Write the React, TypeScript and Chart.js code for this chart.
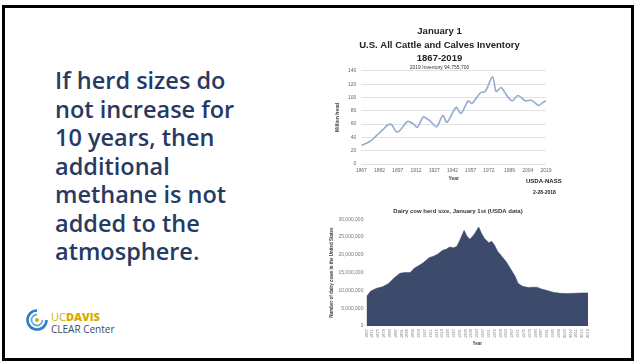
import React, { useEffect, useRef } from "react";
import { Chart, registerables } from "chart.js";
Chart.register(...registerables);

// ---------- Data: U.S. all cattle & calves inventory (million head) ----------
const cattleYears = [1867, 1871, 1875, 1879, 1885, 1889, 1892, 1895, 1897, 1900, 1905, 1910, 1913, 1918, 1921, 1924, 1929, 1934, 1937, 1939, 1945, 1949, 1955, 1958, 1962, 1965, 1969, 1975, 1978, 1982, 1986, 1991, 1996, 2002, 2007, 2013, 2016, 2019];
const cattleValues = [28, 31, 35, 42, 52, 59, 59, 50, 48, 53, 64, 60, 55, 71, 68, 64, 56, 73, 63, 66, 85, 76, 95, 91, 100, 107, 109, 131, 109, 115, 105, 95, 103, 95, 96, 88, 92, 95];
const cattleTickYears = [1867, 1882, 1897, 1912, 1927, 1942, 1957, 1972, 1989, 2004, 2019];

// ---------- Data: dairy cow herd size, January 1st (head) ----------
const dairyYears = [1867, 1870, 1874, 1878, 1882, 1886, 1890, 1893, 1897, 1900, 1903, 1906, 1910, 1913, 1916, 1919, 1922, 1924, 1927, 1929, 1931, 1934, 1936, 1938, 1941, 1944, 1946, 1948, 1951, 1953, 1955, 1957, 1960, 1963, 1966, 1969, 1971, 1974, 1978, 1981, 1984, 1987, 1991, 1995, 2000, 2005, 2010, 2015, 2019];
const dairyValues = [8300000, 9800000, 10600000, 11000000, 11900000, 13500000, 14800000, 15000000, 15000000, 16300000, 17000000, 17800000, 19200000, 19600000, 20200000, 21200000, 21600000, 22200000, 22000000, 22400000, 24000000, 26900000, 25200000, 24400000, 25800000, 27800000, 26000000, 24600000, 23400000, 23800000, 22600000, 21000000, 19500000, 18000000, 16000000, 14000000, 12000000, 11200000, 10800000, 10900000, 10900000, 10400000, 10000000, 9500000, 9200000, 9100000, 9200000, 9300000, 9300000];
const dairyTickYears: number[] = [];
for (let y = 1867; y <= 2019; y += 4) dairyTickYears.push(y);

const slideLines = ["If herd sizes do", "not increase for", "10 years, then", "additional", "methane is not", "added to the", "atmosphere."];

function CattleChart() {
  const ref = useRef<HTMLCanvasElement>(null);
  useEffect(() => {
    const chart = new Chart(ref.current!, {
      type: "line",
      data: {
        datasets: [
          {
            data: cattleYears.map((x, i) => ({ x, y: cattleValues[i] })),
            borderColor: "#95acd0",
            borderWidth: 1.6,
            pointRadius: 0,
            tension: 0.3,
            fill: false,
          },
        ],
      },
      options: {
        animation: false,
        responsive: false,
        devicePixelRatio: 1,
        layout: { padding: { left: 0, right: 17, top: 0, bottom: 4 } },
        plugins: {
          legend: { display: false },
          tooltip: { enabled: false },
          title: {
            display: true,
            text: ["January 1", "U.S. All Cattle and Calves Inventory", "1867-2019"],
            font: { family: "Liberation Sans", size: 9.5, weight: "bold", lineHeight: 1.4 },
            color: "#222",
            padding: { top: 9, bottom: 0 },
          },
          subtitle: {
            display: true,
            text: "2019 Inventory 94,755,700",
            font: { family: "Liberation Sans", size: 5 },
            color: "#333",
            padding: { top: 0, bottom: 0 },
          },
        },
        scales: {
          x: {
            type: "linear",
            min: 1867,
            max: 2019,
            afterBuildTicks: (axis: any) => {
              axis.ticks = cattleTickYears.map((v) => ({ value: v }));
            },
            afterFit: (axis: any) => {
              axis.height = 20;
            },
            ticks: {
              callback: (v: any) => String(v),
              font: { family: "Liberation Sans", size: 5 },
              color: "#666",
              maxRotation: 0,
              autoSkip: false,
              padding: 4,
            },
            grid: { display: false, drawTicks: false },
            border: { display: false },
            title: {
              display: true,
              text: "Year",
              font: { family: "Liberation Sans", size: 5, weight: "bold" },
              color: "#444",
              padding: 2,
            },
          },
          y: {
            min: 0,
            max: 140,
            ticks: {
              stepSize: 20,
              font: { family: "Liberation Sans", size: 5 },
              color: "#666",
              padding: 5,
            },
            grid: { color: "#e2e2e2", lineWidth: 1, drawTicks: false },
            border: { display: false },
            title: {
              display: true,
              text: "Million head",
              font: { family: "Liberation Sans", size: 5, weight: "bold" },
              color: "#444",
              padding: 2,
            },
          },
        },
      },
    });
    return () => chart.destroy();
  }, []);
  return <canvas ref={ref} width={230} height={172} style={{ position: "absolute", left: 333, top: 16 }} />;
}

function DairyChart() {
  const ref = useRef<HTMLCanvasElement>(null);
  useEffect(() => {
    const chart = new Chart(ref.current!, {
      type: "line",
      data: {
        datasets: [
          {
            data: dairyYears.map((x, i) => ({ x, y: dairyValues[i] })),
            borderColor: "#3c4a6b",
            backgroundColor: "#3c4a6b",
            borderWidth: 0.5,
            pointRadius: 0,
            tension: 0,
            fill: "origin",
          },
        ],
      },
      options: {
        animation: false,
        responsive: false,
        devicePixelRatio: 1,
        layout: { padding: { left: 1, right: 14, top: 0, bottom: 0 } },
        plugins: {
          legend: { display: false },
          tooltip: { enabled: false },
          title: {
            display: true,
            text: "Dairy cow herd size, January 1st (USDA data)",
            font: { family: "Liberation Sans", size: 6, weight: "bold" },
            color: "#333",
            padding: { top: 1, bottom: 4 },
          },
        },
        scales: {
          x: {
            type: "linear",
            min: 1867,
            max: 2019,
            afterBuildTicks: (axis: any) => {
              axis.ticks = dairyTickYears.map((v) => ({ value: v }));
            },
            afterFit: (axis: any) => {
              axis.height = 21;
            },
            ticks: {
              callback: (v: any) => String(v),
              font: { family: "Liberation Sans", size: 4 },
              color: "#777",
              minRotation: 90,
              maxRotation: 90,
              autoSkip: false,
              padding: 3,
            },
            grid: { display: false, drawTicks: false },
            border: { display: false },
            title: {
              display: true,
              text: "Year",
              font: { family: "Liberation Sans", size: 4.5, weight: "bold" },
              color: "#444",
              padding: 1,
            },
          },
          y: {
            min: 0,
            max: 30000000,
            ticks: {
              stepSize: 5000000,
              callback: (v: any) => Number(v).toLocaleString("en-US"),
              font: { family: "Liberation Sans", size: 5 },
              color: "#777",
              padding: 3,
            },
            grid: { display: false, drawTicks: false },
            border: { display: false },
            title: {
              display: true,
              text: "Number of dairy cows in the United States",
              font: { family: "Liberation Sans", size: 4.5, weight: "bold" },
              color: "#444",
              padding: 1,
            },
          },
        },
      },
    });
    return () => chart.destroy();
  }, []);
  return <canvas ref={ref} width={275} height={140} style={{ position: "absolute", left: 327, top: 207 }} />;
}

function Logo() {
  return (
    <svg width="22" height="22" viewBox="0 0 22 22" style={{ position: "absolute", left: 26, top: 309 }}>
      <path d="M11 1.5 A9.5 9.5 0 1 0 20.5 11" fill="none" stroke="#2f7fc1" strokeWidth="2.6" />
      <path d="M11 5.5 A5.5 5.5 0 1 0 16.5 11" fill="none" stroke="#6aa9dc" strokeWidth="1.8" />
      <circle cx="11" cy="11" r="2" fill="#daaa00" />
    </svg>
  );
}

export default function App() {
  return (
    <div style={{ position: "fixed", left: 0, top: 0, width: 634, height: 363, background: "#fff", overflow: "hidden" }}>
      <div style={{ position: "absolute", left: 2, top: 5, width: 626, height: 350, border: "3px solid #000" }} />
      <div
        style={{
          position: "absolute",
          left: 55,
          top: 66,
          fontFamily: "'Open Sans', sans-serif",
          fontWeight: 600,
          fontSize: 23.5,
          lineHeight: "28.5px",
          color: "#273a63",
          whiteSpace: "pre",
        }}
      >
        {slideLines.join("\n")}
      </div>
      <Logo />
      <div style={{ position: "absolute", left: 51, top: 311, fontFamily: "'Open Sans', sans-serif", fontSize: 11, lineHeight: "12px", color: "#daaa00", whiteSpace: "nowrap" }}>
        <span style={{ fontWeight: 400 }}>UC</span>
        <span style={{ fontWeight: 800 }}>DAVIS</span>
      </div>
      <div style={{ position: "absolute", left: 51, top: 323, fontFamily: "'Open Sans', sans-serif", fontWeight: 500, fontSize: 10, lineHeight: "12px", color: "#3a4a6a", whiteSpace: "nowrap" }}>
        CLEAR Center
      </div>
      <CattleChart />
      <div style={{ position: "absolute", left: 526, top: 178, fontFamily: "Liberation Sans", fontWeight: 700, fontSize: 6, color: "#222", whiteSpace: "nowrap" }}>
        USDA-NASS
      </div>
      <div style={{ position: "absolute", left: 533, top: 189, fontFamily: "Liberation Sans", fontWeight: 700, fontSize: 5, color: "#222", whiteSpace: "nowrap" }}>
        2-28-2018
      </div>
      <DairyChart />
    </div>
  );
}
